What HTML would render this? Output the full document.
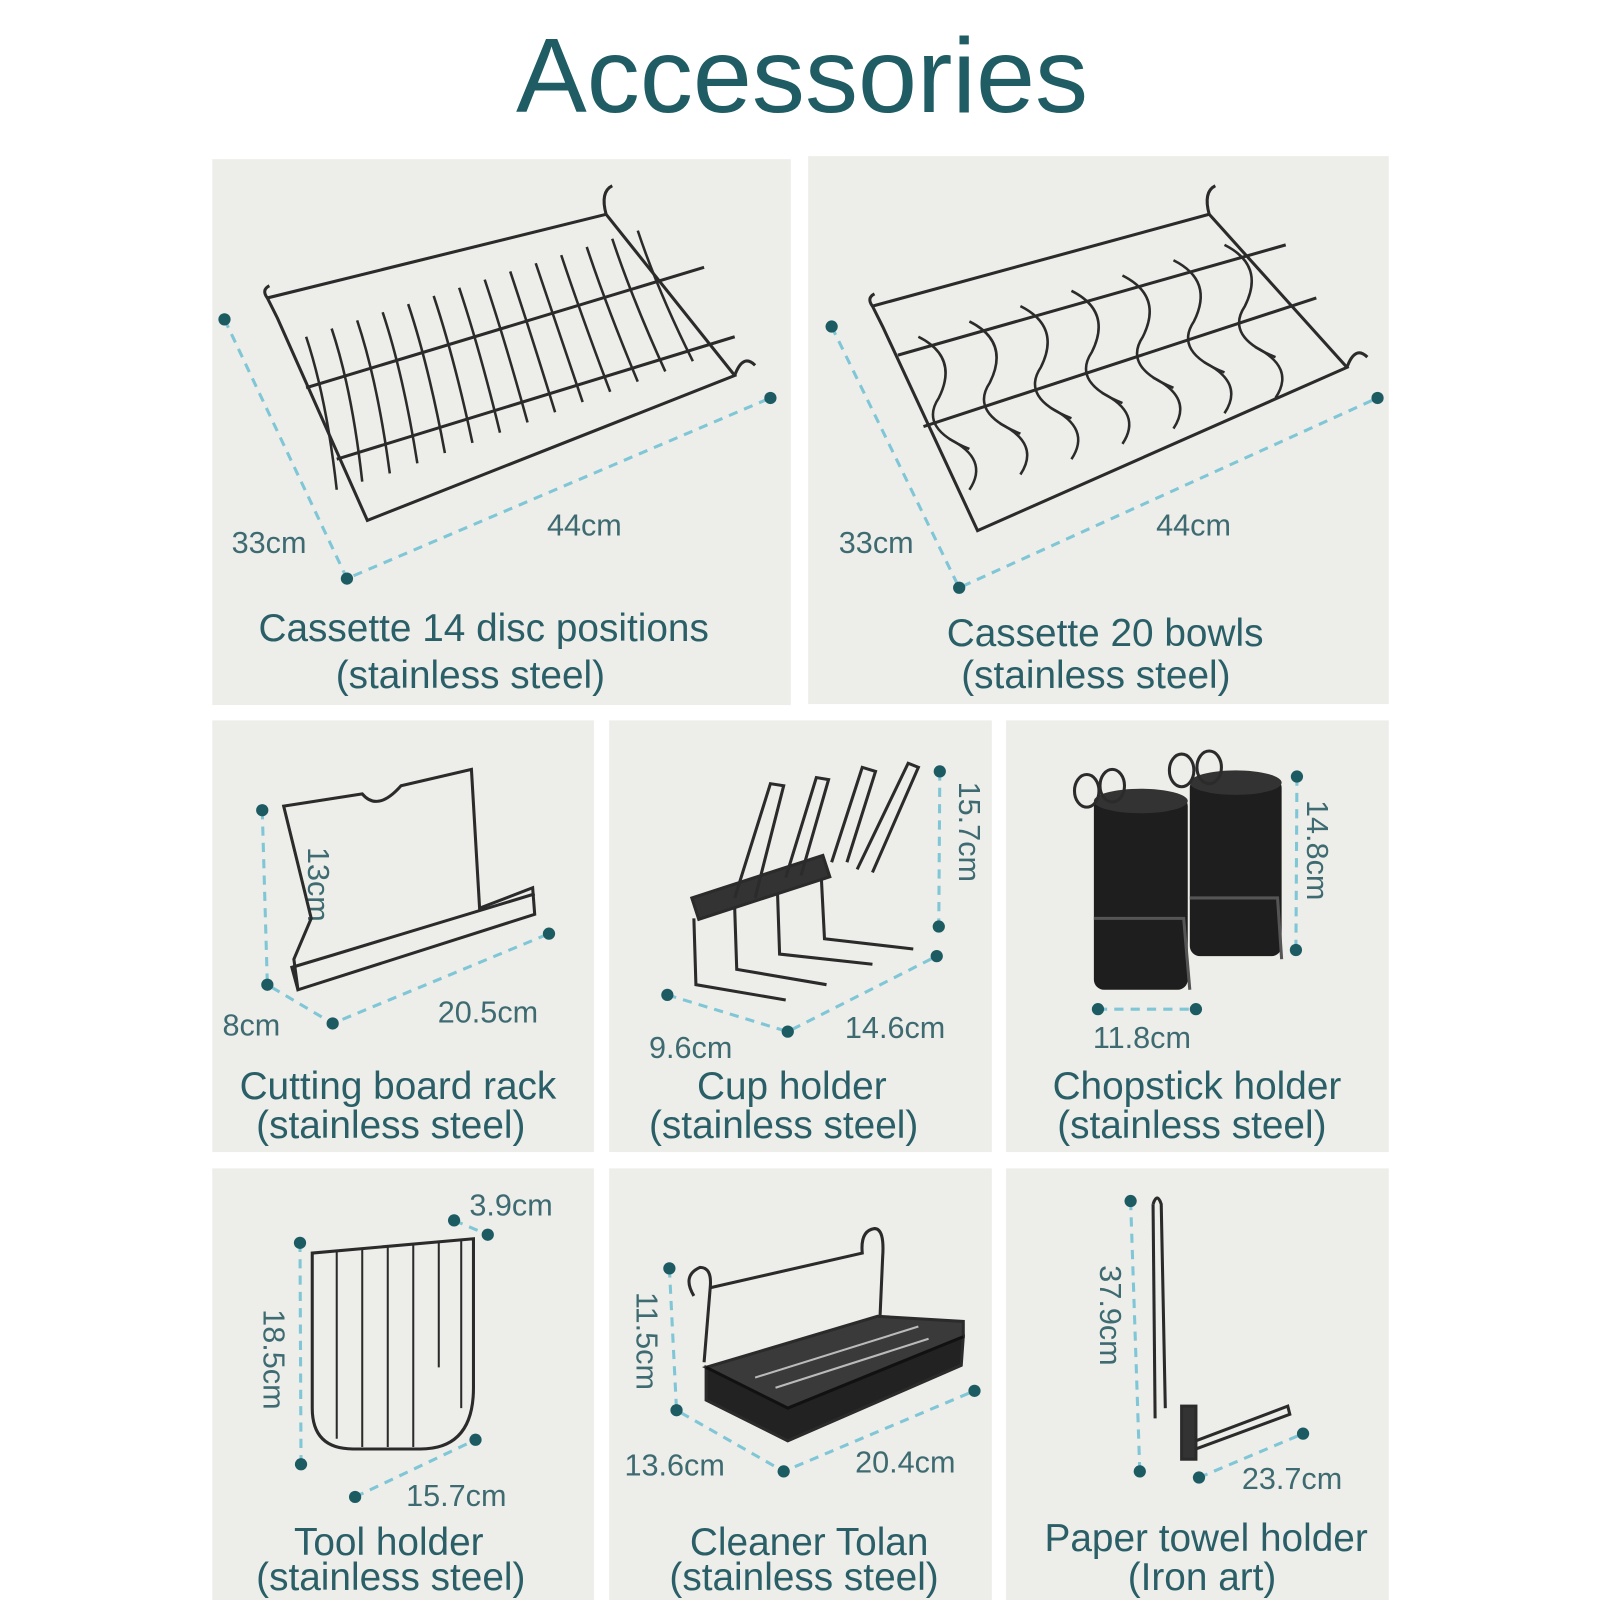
<!DOCTYPE html>
<html><head><meta charset="utf-8"><style>
html,body{margin:0;padding:0;background:#fff;width:1600px;height:1600px;overflow:hidden}
svg{display:block}
text{font-family:"Liberation Sans",sans-serif}
</style></head><body>
<svg width="1600" height="1600" viewBox="0 0 1568 1568" xmlns="http://www.w3.org/2000/svg">
<rect width="1568" height="1568" fill="#fff"/>
<text x="786" y="110" text-anchor="middle" font-size="104" fill="#1f5c64">Accessories</text>
<g fill="#edede9">
<rect x="208" y="156" width="567" height="535"/>
<rect x="792" y="153" width="569" height="537"/>
<rect x="208" y="706" width="374" height="423"/>
<rect x="597" y="706" width="375" height="423"/>
<rect x="986" y="706" width="375" height="423"/>
<rect x="208" y="1145" width="374" height="423"/>
<rect x="597" y="1145" width="375" height="423"/>
<rect x="986" y="1145" width="375" height="423"/>
</g>
<g stroke="#7fc6d6" stroke-width="3" stroke-dasharray="9 7" fill="none">
<path d="M220 313 L340 567 L755 390"/>
<path d="M815 320 L940 576 L1350 390"/>
<path d="M257 794 L262 965 L326 1003 L538 915"/>
<path d="M654 975 L772 1011 L918 937"/>
<path d="M921 756 L920 908"/>
<path d="M1076 989 L1172 989"/>
<path d="M1271 761 L1270 931"/>
<path d="M294 1218 L295 1435"/>
<path d="M348 1467 L466 1411"/>
<path d="M445 1196 L478 1210"/>
<path d="M656 1243 L663 1382 L768 1442 L955 1363"/>
<path d="M1108 1177 L1117 1442"/>
<path d="M1175 1448 L1277 1405"/>
</g>
<g fill="#1d5b63">
<circle cx="220" cy="313" r="6"/><circle cx="340" cy="567" r="6"/><circle cx="755" cy="390" r="6"/>
<circle cx="815" cy="320" r="6"/><circle cx="940" cy="576" r="6"/><circle cx="1350" cy="390" r="6"/>
<circle cx="257" cy="794" r="6"/><circle cx="262" cy="965" r="6"/><circle cx="326" cy="1003" r="6"/><circle cx="538" cy="915" r="6"/>
<circle cx="654" cy="975" r="6"/><circle cx="772" cy="1011" r="6"/><circle cx="918" cy="937" r="6"/>
<circle cx="921" cy="756" r="6"/><circle cx="920" cy="908" r="6"/>
<circle cx="1076" cy="989" r="6"/><circle cx="1172" cy="989" r="6"/>
<circle cx="1271" cy="761" r="6"/><circle cx="1270" cy="931" r="6"/>
<circle cx="294" cy="1218" r="6"/><circle cx="295" cy="1435" r="6"/>
<circle cx="348" cy="1467" r="6"/><circle cx="466" cy="1411" r="6"/>
<circle cx="445" cy="1196" r="6"/><circle cx="478" cy="1210" r="6"/>
<circle cx="656" cy="1243" r="6"/><circle cx="663" cy="1382" r="6"/><circle cx="768" cy="1442" r="6"/><circle cx="955" cy="1363" r="6"/>
<circle cx="1108" cy="1177" r="6"/><circle cx="1117" cy="1442" r="6"/>
<circle cx="1175" cy="1448" r="6"/><circle cx="1277" cy="1405" r="6"/>
</g>
<g fill="#3e6b71" font-size="30">
<text x="227" y="542">33cm</text><text x="536" y="525">44cm</text>
<text x="822" y="542">33cm</text><text x="1133" y="525">44cm</text>
<text x="218" y="1015">8cm</text><text x="429" y="1002">20.5cm</text>
<text x="636" y="1037">9.6cm</text><text x="828" y="1017">14.6cm</text>
<text x="1071" y="1027">11.8cm</text>
<text x="460" y="1191">3.9cm</text><text x="398" y="1476">15.7cm</text>
<text x="612" y="1446">13.6cm</text><text x="838" y="1443">20.4cm</text>
<text x="1217" y="1459">23.7cm</text>
<text transform="translate(302 830) rotate(90)">13cm</text>
<text transform="translate(940 766) rotate(90)">15.7cm</text>
<text transform="translate(1281 784) rotate(90)">14.8cm</text>
<text transform="translate(258 1283) rotate(90)">18.5cm</text>
<text transform="translate(624 1266) rotate(90)">11.5cm</text>
<text transform="translate(1078 1240) rotate(90)">37.9cm</text>
</g>
<g fill="#2a5f68" font-size="38" text-anchor="middle">
<text x="474" y="628">Cassette 14 disc positions</text><text x="461" y="674">(stainless steel)</text>
<text x="1083" y="633">Cassette 20 bowls</text><text x="1074" y="674">(stainless steel)</text>
<text x="390" y="1077">Cutting board rack</text><text x="383" y="1115">(stainless steel)</text>
<text x="776" y="1077">Cup holder</text><text x="768" y="1115">(stainless steel)</text>
<text x="1173" y="1077">Chopstick holder</text><text x="1168" y="1115">(stainless steel)</text>
<text x="381" y="1524">Tool holder</text><text x="383" y="1558">(stainless steel)</text>
<text x="793" y="1524">Cleaner Tolan</text><text x="788" y="1558">(stainless steel)</text>
<text x="1182" y="1520">Paper towel holder</text><text x="1178" y="1558">(Iron art)</text>
</g>
<g stroke="#2b2b2b" stroke-width="3" fill="none">
<path d="M262 292 L272 312 L360 510 L720 368 L594 210 Z"/>
<path d="M300 380 L690 262"/><path d="M330 450 L720 330"/>
<path d="M262 292 q-6 -8 2 -12"/><path d="M594 210 q-6 -22 6 -28"/><path d="M720 368 q8 -22 20 -10"/>
<g stroke-width="2.5">
<path d="M300 330 q20 60 30 150"/><path d="M325 322 q20 60 30 150"/><path d="M350 314 q20 60 32 150"/><path d="M375 306 q20 60 34 148"/><path d="M400 298 q20 60 36 146"/><path d="M425 290 q20 60 38 144"/><path d="M450 282 q20 60 40 142"/><path d="M475 274 q20 60 42 140"/><path d="M500 266 q20 60 44 138"/><path d="M525 258 q20 60 46 136"/><path d="M550 250 q20 60 48 134"/><path d="M575 242 q20 60 50 132"/><path d="M600 234 q20 60 52 130"/><path d="M625 226 q20 60 54 128"/>
</g>
<path d="M855 300 L865 320 L958 520 L1320 360 L1185 210 Z"/>
<path d="M905 418 L1290 292"/><path d="M880 348 L1260 240"/>
<path d="M855 300 q-6 -8 2 -12"/><path d="M1185 210 q-6 -22 6 -28"/><path d="M1320 360 q8 -22 20 -10"/>
<g stroke-width="2.5">
<path d="M900 330 q40 20 20 60 q-20 30 30 50"/><path d="M950 315 q40 20 20 60 q-20 30 30 50"/><path d="M1000 300 q40 20 20 60 q-20 30 30 50"/><path d="M1050 285 q40 20 20 60 q-20 30 30 50"/><path d="M1100 270 q40 20 20 60 q-20 30 30 50"/><path d="M1150 255 q40 20 20 60 q-20 30 30 50"/><path d="M1200 240 q40 20 20 60 q-20 30 30 50"/>
<path d="M930 430 q40 20 20 50"/><path d="M980 415 q40 20 20 50"/><path d="M1030 400 q40 20 20 50"/><path d="M1080 385 q40 20 20 50"/><path d="M1130 370 q40 20 20 50"/><path d="M1180 355 q40 20 20 50"/><path d="M1230 340 q40 20 20 50"/>
</g>
<path d="M278 790 L355 778 q15 18 38 -8 L462 754 L470 890 L522 870 L524 896 L292 970 L288 940 L305 900 Z"/>
<path d="M292 970 L286 948 L326 936 L524 876"/>
<rect x="678" y="880" width="135" height="22" fill="#333" transform="rotate(-18 678 880)"/>
<path d="M680 900 L682 965 L770 980"/><path d="M720 890 L722 950 L810 965"/><path d="M762 876 L764 935 L855 945"/><path d="M805 862 L808 920 L895 930"/>
<path d="M720 880 L755 768 L768 770 L740 880"/><path d="M770 860 L800 762 L812 764 L785 858"/><path d="M815 845 L845 752 L858 756 L830 845"/><path d="M840 852 L890 748 L900 752 L855 855"/>
<g fill="#1e1e1e" stroke="none">
<rect x="1072" y="780" width="92" height="190" rx="10"/><ellipse cx="1118" cy="785" rx="46" ry="12" fill="#333"/>
<rect x="1166" y="762" width="90" height="175" rx="10"/><ellipse cx="1211" cy="767" rx="45" ry="12" fill="#333"/>
</g>
<ellipse cx="1065" cy="775" rx="12" ry="16"/><ellipse cx="1090" cy="770" rx="12" ry="16"/>
<ellipse cx="1158" cy="755" rx="12" ry="16"/><ellipse cx="1185" cy="752" rx="12" ry="16"/>
<path d="M1072 900 L1160 900 L1166 970" stroke="#555"/><path d="M1166 880 L1252 880 L1256 940" stroke="#555"/>
<path d="M306 1228 L306 1380 q0 40 40 40 L412 1420 q52 0 52 -60 L464 1214 L306 1228 Z"/>
<g stroke-width="2"><path d="M330 1226 L330 1410"/><path d="M355 1224 L355 1418"/><path d="M380 1222 L380 1418"/><path d="M405 1220 L405 1418"/><path d="M430 1218 L430 1340"/><path d="M452 1216 L452 1380"/></g>
<path d="M680 1270 q-12 -20 6 -28 q12 0 10 20 L690 1335"/><path d="M696 1262 L845 1228 q-2 -22 12 -24 q10 0 8 28 L862 1300"/>
<path d="M692 1340 L692 1372 L772 1412 L942 1338 L944 1310 L772 1380 Z" fill="#222"/>
<path d="M692 1340 L860 1290 L944 1295 L944 1310 L772 1380 Z" fill="#3a3a3a"/>
<path d="M692 1340 L772 1380 L944 1310" stroke="#111"/>
<g stroke="#bbb" stroke-width="2"><path d="M740 1350 L900 1300"/><path d="M760 1360 L910 1312"/></g>
<path d="M1130 1180 q4 -12 8 0 L1142 1380"/><path d="M1130 1180 L1132 1390"/>
<rect x="1158" y="1378" width="14" height="52" fill="#333"/>
<path d="M1172 1412 L1262 1378 L1264 1386 L1172 1420"/>
</g>
</svg>
</body></html>
